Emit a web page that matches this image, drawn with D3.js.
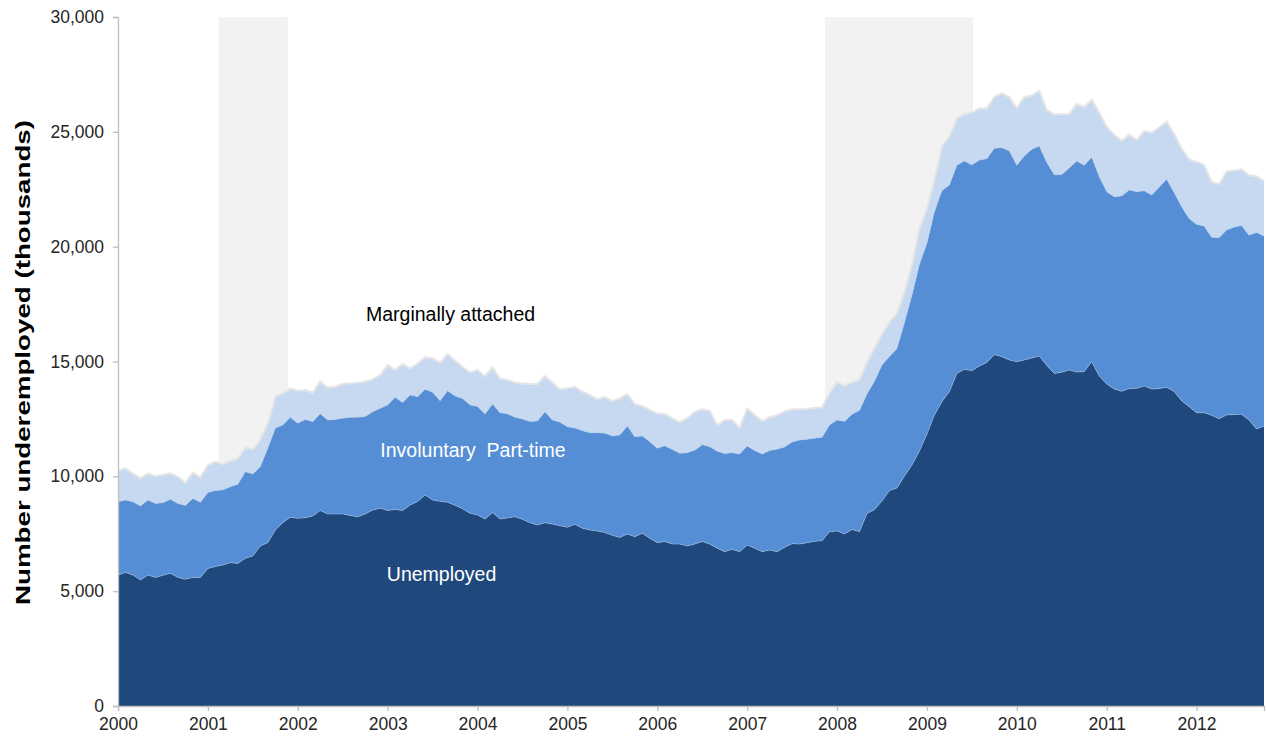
<!DOCTYPE html>
<html>
<head>
<meta charset="utf-8">
<script src="https://cdn.jsdelivr.net/npm/d3@7"></script>
<style>
  body { margin: 0; background: #fff; }
  text { font-family: Arial, "Liberation Sans", sans-serif; }
</style>
</head>
<body>
<div id="chart"></div>
<script>
// monthly, Jan 2000 - Oct 2012 (thousands)
var unemployed = [
  5700, 5810, 5700, 5490, 5700, 5600, 5690, 5780, 5600, 5520, 5600, 5600,
  5990, 6070, 6140, 6240, 6210, 6430, 6530, 6970, 7110, 7660, 7980, 8220,
  8170, 8200, 8270, 8510, 8360, 8360, 8360, 8290, 8240, 8360, 8530, 8610,
  8510, 8560, 8510, 8750, 8900, 9190, 8970, 8910, 8870, 8740, 8590, 8390,
  8320, 8140, 8420, 8140, 8190, 8240, 8130, 7980, 7880, 7980, 7920, 7850,
  7780, 7910, 7740, 7660, 7620, 7550, 7430, 7340, 7490, 7370, 7520, 7300,
  7110, 7160, 7050, 7050, 6970, 7050, 7160, 7050, 6870, 6720, 6820, 6720,
  7010, 6870, 6720, 6790, 6720, 6910, 7070, 7050, 7110, 7170, 7200, 7590,
  7620, 7490, 7690, 7590, 8380, 8550, 8930, 9380, 9490, 10010, 10490, 11100,
  11840, 12670, 13250, 13690, 14480, 14660, 14600, 14800, 14960, 15300, 15210, 15070,
  14990, 15070, 15150, 15240, 14830, 14480, 14530, 14630, 14540, 14560, 14990, 14370,
  14020, 13800, 13700, 13820, 13830, 13930, 13800, 13820, 13880, 13690, 13290, 13030,
  12770, 12770, 12660, 12510, 12670, 12690, 12700, 12450, 12060, 12190
];
var partTime = [
  3190, 3160, 3190, 3220, 3270, 3220, 3160, 3220, 3220, 3210, 3440, 3270,
  3310, 3310, 3270, 3310, 3440, 3770, 3570, 3450, 4110, 4430, 4250, 4350,
  4140, 4280, 4110, 4210, 4090, 4120, 4170, 4280, 4330, 4240, 4280, 4350,
  4600, 4880, 4700, 4790, 4570, 4600, 4690, 4380, 4860, 4760, 4800, 4720,
  4720, 4570, 4730, 4630, 4530, 4330, 4370, 4410, 4530, 4830, 4530, 4510,
  4380, 4190, 4250, 4240, 4280, 4330, 4330, 4460, 4700, 4350, 4240, 4210,
  4110, 4170, 4120, 3950, 4060, 4090, 4220, 4240, 4220, 4270, 4210, 4250,
  4310, 4250, 4250, 4330, 4460, 4370, 4430, 4530, 4500, 4490, 4500, 4650,
  4830, 4900, 5010, 5280, 5200, 5590, 5920, 5840, 6080, 6680, 7400, 8130,
  8300, 8850, 9190, 9000, 9070, 9070, 8960, 8970, 8870, 8980, 9100, 9100,
  8550, 8880, 9090, 9140, 8840, 8650, 8610, 8800, 9190, 8980, 8900, 8680,
  8370, 8370, 8510, 8650, 8560, 8500, 8450, 8770, 9060, 8670, 8450, 8200,
  8200, 8130, 7750, 7880, 8060, 8160, 8220, 8050, 8560, 8270
];
var marginal = [
  1350, 1380, 1230, 1200, 1160, 1190, 1210, 1130, 1160, 1000, 1120, 1090,
  1190, 1260, 1130, 1130, 1130, 1060, 1070, 1190, 1090, 1380, 1380, 1260,
  1420, 1280, 1260, 1410, 1420, 1420, 1500, 1480, 1510, 1520, 1410, 1450,
  1740, 1190, 1680, 1160, 1450, 1390, 1480, 1660, 1600, 1540, 1380, 1410,
  1600, 1650, 1600, 1490, 1480, 1510, 1540, 1630, 1610, 1550, 1650, 1420,
  1680, 1800, 1700, 1640, 1450, 1570, 1510, 1600, 1380, 1420, 1310, 1380,
  1520, 1380, 1350, 1360, 1500, 1670, 1540, 1570, 1130, 1470, 1420, 1160,
  1640, 1550, 1440, 1450, 1480, 1550, 1420, 1340, 1320, 1320, 1310, 1400,
  1670, 1560, 1390, 1350, 1380, 1460, 1350, 1480, 1530, 1350, 1350, 1570,
  1530, 1380, 1920, 2130, 2030, 2050, 2280, 2260, 2190, 2250, 2370, 2340,
  2500, 2560, 2340, 2410, 2280, 2640, 2640, 2350, 2480, 2550, 2510, 2790,
  2830, 2710, 2400, 2410, 2250, 2610, 2710, 2600, 2510, 2560, 2540, 2570,
  2730, 2670, 2420, 2340, 2540, 2470, 2450, 2610, 2450, 2410
];
var seriesKeys = ["unemployed", "partTime", "marginal"];
var seriesColors = ["#1f497d", "#558ed5", "#c6d9f1"];
var seriesLabels = ["Unemployed", "Involuntary  Part-time", "Marginally attached"];
var recessions = [[2001.12, 2001.89], [2007.866, 2009.513]];
var yearTicks = d3.range(2000, 2013);
var valueTicks = [0, 5000, 10000, 15000, 20000, 25000, 30000];

var width = 1266, height = 736;
var plotLeft = 118, plotRight = 1264, plotTop = 17, plotBottom = 706;

var rows = unemployed.map(function (d, i) {
  return { date: 2000 + i / 12, unemployed: d, partTime: partTime[i], marginal: marginal[i] };
});

var x = d3.scaleLinear().domain([2000, 2000 + (rows.length - 1) / 12]).range([plotLeft, plotRight]);
var y = d3.scaleLinear().domain([0, 30000]).range([plotBottom, plotTop]);

var svg = d3.select("#chart").append("svg")
  .attr("width", width)
  .attr("height", height);

// recession bands
svg.selectAll(".recession")
  .data(recessions)
  .enter().append("rect")
    .classed("recession", true)
    .attr("x", function (d) { return x(d[0]); })
    .attr("y", y(30000))
    .attr("width", function (d) { return x(d[1]) - x(d[0]); })
    .attr("height", y(0) - y(30000))
    .attr("fill", "#f2f2f2");

var stacked = d3.stack().keys(seriesKeys)(rows);

var area = d3.area()
  .x(function (d) { return x(d.data.date); })
  .y0(function (d) { return y(d[0]); })
  .y1(function (d) { return y(d[1]); });

var topLine = d3.line()
  .x(function (d) { return x(d.data.date); })
  .y(function (d) { return y(d[1]); });

svg.selectAll(".layer")
  .data(stacked)
  .enter().append("path")
    .classed("layer", true)
    .attr("d", area)
    .attr("fill", function (d, i) { return seriesColors[i]; });

svg.selectAll(".edge")
  .data(stacked)
  .enter().append("path")
    .classed("edge", true)
    .attr("d", topLine)
    .attr("fill", "none")
    .attr("stroke", function (d, i) { return i == 2 ? "#e6e6e6" : "#a9c4e8"; })
    .attr("stroke-width", function (d, i) { return i == 2 ? 2 : 0.8; })
    .attr("stroke-opacity", function (d, i) { return i == 2 ? 1 : 0.6; });

// axes
var yAxis = svg.append("g").attr("transform", "translate(" + plotLeft + ",0)")
  .call(d3.axisLeft(y).tickValues(valueTicks).tickSize(5).tickPadding(9).tickFormat(d3.format(",")));
var xAxis = svg.append("g").attr("transform", "translate(0," + plotBottom + ")")
  .call(d3.axisBottom(x).tickValues(yearTicks).tickSize(5).tickPadding(7).tickFormat(d3.format("d")));

[yAxis, xAxis].forEach(function (g) {
  g.select(".domain").attr("stroke", "#bfbfbf").attr("stroke-width", 1.3);
  g.selectAll(".tick line").attr("stroke", "#bfbfbf").attr("stroke-width", 1.3);
  g.selectAll(".tick text")
    .style("font-size", "17.5px")
    .style("font-family", "Arial, 'Liberation Sans', sans-serif")
    .attr("fill", "#262626");
});

svg.append("text")
  .attr("transform", "translate(30,362.5) rotate(-90)")
  .attr("text-anchor", "middle")
  .attr("textLength", 485)
  .attr("lengthAdjust", "spacingAndGlyphs")
  .style("font-size", "20px")
  .style("font-weight", "bold")
  .attr("fill", "#000")
  .text("Number underemployed (thousands)");

// series labels
var labelPos = [[2003.6, 5750], [2003.95, 11150], [2003.7, 17070]];
var labelColors = ["#ffffff", "#ffffff", "#000000"];
svg.selectAll(".series-label")
  .data(seriesLabels)
  .enter().append("text")
    .classed("series-label", true)
    .attr("x", function (d, i) { return x(labelPos[i][0]); })
    .attr("y", function (d, i) { return y(labelPos[i][1]); })
    .attr("text-anchor", "middle")
    .attr("dy", "0.35em")
    .style("font-size", "19.5px")
    .style("white-space", "pre")
    .attr("fill", function (d, i) { return labelColors[i]; })
    .text(function (d) { return d; });
</script>
</body>
</html>
